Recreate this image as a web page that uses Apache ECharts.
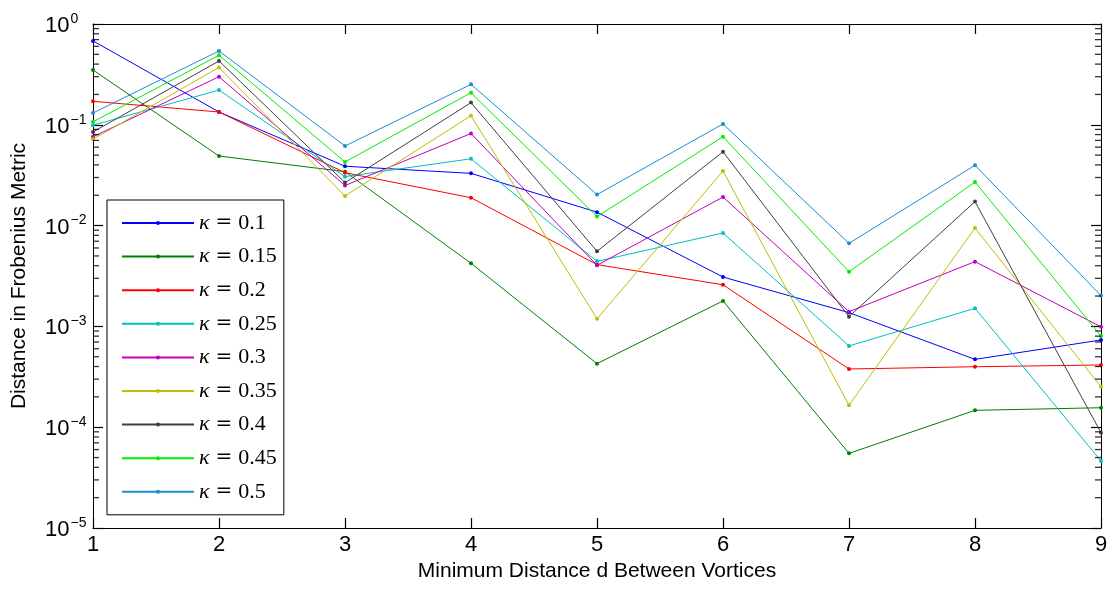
<!DOCTYPE html>
<html><head><meta charset="utf-8">
<script src="https://cdn.jsdelivr.net/npm/echarts@6/dist/echarts.min.js"></script>
<style>html,body{margin:0;padding:0;background:#fff}#c{width:1114px;height:592px}</style>
</head><body><div id="c"></div>
<script>
const dValues = [1, 2, 3, 4, 5, 6, 7, 8, 9];
const kappas = ['0.1', '0.15', '0.2', '0.25', '0.3', '0.35', '0.4', '0.45', '0.5'];
const colors = ['#0000ff', '#008000', '#ff0000', '#00bfbf', '#bf00bf', '#bfbf00', '#404040', '#00ee00', '#1e8cd2'];

const k010 = [0.68, 0.134, 0.0388, 0.033, 0.0136, 0.00309, 0.00137, 0.000471, 0.000733];
const k015 = [0.35, 0.049, 0.0343, 0.00423, 0.000427, 0.00179, 0.000055, 0.000147, 0.000156];
const k020 = [0.171, 0.134, 0.0335, 0.0189, 0.0041, 0.00259, 0.000378, 0.000398, 0.000414];
const k025 = [0.099, 0.221, 0.0306, 0.046, 0.00442, 0.00845, 0.00064, 0.00151, 0.0000462];
const k030 = [0.076, 0.30, 0.025, 0.082, 0.00404, 0.0192, 0.0014, 0.00439, 0.00099];
const k035 = [0.072, 0.37, 0.0197, 0.123, 0.00119, 0.0348, 0.000165, 0.00946, 0.000252];
const k040 = [0.085, 0.43, 0.0267, 0.166, 0.00556, 0.054, 0.00125, 0.0173, 0.0000883];
const k045 = [0.107, 0.49, 0.0428, 0.208, 0.0123, 0.0762, 0.00349, 0.0271, 0.000803];
const k050 = [0.131, 0.54, 0.0616, 0.252, 0.0203, 0.102, 0.00667, 0.0397, 0.00202];
const seriesValues = [k010, k015, k020, k025, k030, k035, k040, k045, k050];

const yMin = 1e-5, yMax = 1;
const minorTickVals = [];
for (let e = -5; e < 0; e++) for (let m = 2; m <= 9; m++) minorTickVals.push(m * Math.pow(10, e));

const chart = echarts.init(document.getElementById('c'), null, {renderer: 'canvas'});
const font = 'Liberation Sans, Arial, sans-serif';
const serif = 'Liberation Serif, DejaVu Serif, serif';

const lineSeries = kappas.map((k, i) => ({
  name: k,
  type: 'line',
  z: 3,
  data: dValues.map((d, j) => [d, seriesValues[i][j]]),
  symbol: 'circle',
  symbolSize: 4,
  showSymbol: true,
  lineStyle: {width: 1, color: colors[i]},
  itemStyle: {color: colors[i]},
  emphasis: {disabled: true},
  animation: false
}));

function minorTickSeries(xVal, offset) {
  return {
    name: 'minorTicks' + xVal,
    type: 'scatter',
    silent: true,
    clip: false,
    z: 4,
    symbol: 'rect',
    symbolSize: [6, 1.3],
    symbolOffset: [offset, 0],
    itemStyle: {color: '#000'},
    emphasis: {disabled: true},
    data: minorTickVals.map(v => [xVal, v]),
    animation: false
  };
}

const axisLineStyle = {show: true, lineStyle: {color: '#000', width: 1}};
const majorTick = {show: true, inside: true, length: 10, lineStyle: {color: '#000', width: 1.2}};

const option = {
  backgroundColor: '#fff',
  animation: false,
  grid: {left: 93, right: 13, top: 24, bottom: 64, containLabel: false},
  legend: {
    data: kappas,
    orient: 'vertical',
    left: 107, top: 200,
    padding: [12, 7, 12, 14],
    itemWidth: 72, itemHeight: 5,
    itemGap: 11.6,
    z: 6,
    backgroundColor: '#fff',
    borderColor: '#000', borderWidth: 1,
    formatter: name => '{k|κ}{e|=}' + name,
    textStyle: {
      fontFamily: serif,
      fontSize: 22, lineHeight: 22, color: '#000',
      rich: {
        k: {fontFamily: serif, fontStyle: 'italic', fontSize: 22, lineHeight: 22, color: '#000'},
        e: {fontFamily: 'DejaVu Serif, serif', fontSize: 20, lineHeight: 22, color: '#000', padding: [0, 6, 0, 6]}
      }
    }
  },
  xAxis: [{
    type: 'value', min: 1, max: 9, interval: 1, position: 'bottom',
    name: 'Minimum Distance d Between Vortices', nameLocation: 'middle', nameGap: 32,
    nameTextStyle: {fontFamily: font, fontSize: 21, color: '#000'},
    axisLine: axisLineStyle,
    axisTick: majorTick,
    axisLabel: {fontFamily: font, fontSize: 22, color: '#000', margin: 6, formatter: v => String(v)},
    splitLine: {show: false}
  }, {
    type: 'value', min: 1, max: 9, interval: 1, position: 'top',
    axisLine: axisLineStyle,
    axisTick: majorTick,
    axisLabel: {show: false}, splitLine: {show: false}
  }],
  yAxis: [{
    type: 'log', logBase: 10, min: yMin, max: yMax, position: 'left',
    name: 'Distance in Frobenius Metric', nameLocation: 'middle', nameGap: 63,
    nameTextStyle: {fontFamily: font, fontSize: 21, color: '#000'},
    axisLine: axisLineStyle,
    axisTick: majorTick,
    axisLabel: {
      fontFamily: font, color: '#000', margin: 48, align: 'left',
      formatter: v => {
        const e = Math.round(Math.log10(v));
        return '{b|10}{s|' + (e < 0 ? '\u2212' + (-e) : e) + '}';
      },
      rich: {
        b: {fontFamily: font, fontSize: 22, color: '#000', lineHeight: 26, padding: [4, 0, 0, 0]},
        s: {fontFamily: font, fontSize: 14, color: '#000', lineHeight: 26, padding: [0, 0, 10, 1]}
      }
    },
    splitLine: {show: false}
  }, {
    type: 'log', logBase: 10, min: yMin, max: yMax, position: 'right',
    axisLine: axisLineStyle,
    axisTick: majorTick,
    axisLabel: {show: false}, splitLine: {show: false}
  }],
  series: [minorTickSeries(dValues[0], 3), minorTickSeries(dValues[dValues.length - 1], -3)].concat(lineSeries)
};
chart.setOption(option);
</script>
</body></html>
